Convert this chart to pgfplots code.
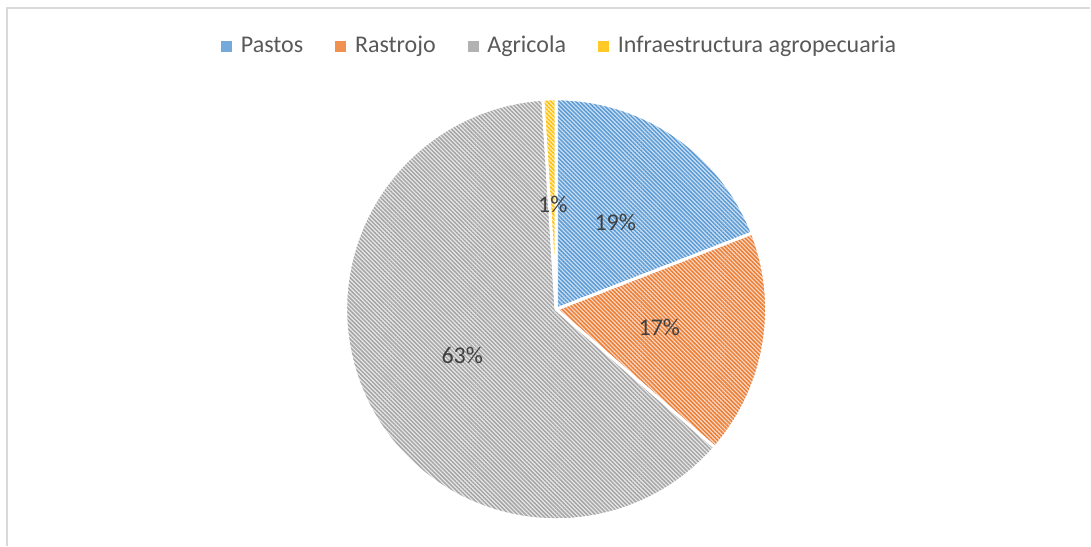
\documentclass[border=0pt]{standalone}
\usepackage{pgfplots}
\pgfplotsset{compat=1.18}
\usepackage{pgfplotstable}
\usepackage{fontspec}
\setmainfont{Carlito}
\usetikzlibrary{patterns.meta}
\definecolor{cPastos}{HTML}{5B9BD5}
\definecolor{tPastos}{HTML}{CFE1F3}
\definecolor{cRastrojo}{HTML}{ED7D31}
\definecolor{tRastrojo}{HTML}{FADACB}
\definecolor{cAgricola}{HTML}{A5A5A5}
\definecolor{tAgricola}{HTML}{EAEAEA}
\definecolor{cInfra}{HTML}{FFC000}
\definecolor{tInfra}{HTML}{FFEEB8}
\definecolor{labelgray}{HTML}{404040}
\definecolor{leggray}{HTML}{595959}
\definecolor{framegray}{HTML}{D9D9D9}

\tikzset{hatch/.style 2 args={preaction={fill=#2}, pattern={Lines[angle=-45,distance=1.45pt,line width=0.75pt]}, pattern color=#1}}

% pie data (percent)
\pgfplotstableread{
label value
Pastos 19.1
Rastrojo 17.3
Agricola 62.6
Infraestructura 1.0
}\piedata

\begin{document}
\begin{tikzpicture}
\pgfplotstablegetelem{0}{value}\of\piedata \let\vA\pgfplotsretval
\pgfplotstablegetelem{1}{value}\of\piedata \let\vB\pgfplotsretval
\pgfplotstablegetelem{2}{value}\of\piedata \let\vC\pgfplotsretval
\pgfplotstablegetelem{3}{value}\of\piedata \let\vD\pgfplotsretval
\pgfmathsetmacro\aA{90}
\pgfmathsetmacro\aB{\aA-3.6*\vA}
\pgfmathsetmacro\aC{\aB-3.6*\vB}
\pgfmathsetmacro\aD{\aC-3.6*\vC}
\pgfmathsetmacro\aE{\aD-3.6*\vD}
\pgfmathsetmacro\mA{(\aA+\aB)/2}
\pgfmathsetmacro\mB{(\aB+\aC)/2}
\pgfmathsetmacro\mC{(\aC+\aD)/2}
\pgfmathsetmacro\mD{(\aD+\aE)/2}
\def\R{105.3pt}
\def\L{52.4pt}
\begin{axis}[
  x=0.5pt, y=0.5pt,
  xmin=0, xmax=1091, ymin=0, ymax=546,
  hide axis, clip=false,
  legend columns=4,
  legend style={at={(axis cs:561,500)}, anchor=center, draw=none, fill=none,
    font=\fontsize{12}{14}\selectfont, text=leggray,
    /tikz/every even column/.append style={column sep=14pt},
    /tikz/every odd column/.append style={column sep=2.5pt}},
]
\addlegendimage{legend image code/.code={\fill[cPastos!85!white] (0pt,-2.5pt) rectangle (5pt,2.5pt);}}
\addlegendentry{Pastos}
\addlegendimage{legend image code/.code={\fill[cRastrojo!85!white] (0pt,-2.5pt) rectangle (5pt,2.5pt);}}
\addlegendentry{Rastrojo}
\addlegendimage{legend image code/.code={\fill[cAgricola!85!white] (0pt,-2.5pt) rectangle (5pt,2.5pt);}}
\addlegendentry{Agricola}
\addlegendimage{legend image code/.code={\fill[cInfra!85!white] (0pt,-2.5pt) rectangle (5pt,2.5pt);}}
\addlegendentry{Infraestructura agropecuaria}

\path (axis cs:0,0) rectangle (axis cs:1091,546);
\draw[framegray, line width=0.7pt] (axis cs:7,0) -- (axis cs:7,538) -- (axis cs:1091,538);

\path[hatch={cPastos}{tPastos}, draw=white, line width=1.5pt, line join=round]
  (axis cs:556.5,236.5) -- ++(\aA:\R) arc[start angle=\aA, end angle=\aB, radius=\R] -- cycle;
\path[hatch={cRastrojo}{tRastrojo}, draw=white, line width=1.5pt, line join=round]
  (axis cs:556.5,236.5) -- ++(\aB:\R) arc[start angle=\aB, end angle=\aC, radius=\R] -- cycle;
\path[hatch={cAgricola}{tAgricola}, draw=white, line width=1.5pt, line join=round]
  (axis cs:556.5,236.5) -- ++(\aC:\R) arc[start angle=\aC, end angle=\aD, radius=\R] -- cycle;
\path[hatch={cInfra}{tInfra}, draw=white, line width=1.5pt, line join=round]
  (axis cs:556.5,236.5) -- ++(\aD:\R) arc[start angle=\aD, end angle=\aE, radius=\R] -- cycle;

\path[every node/.style={font=\fontsize{12}{14}\selectfont, text=labelgray}]
  (axis cs:556.5,236.5) ++(\mA:\L) node {19\%}
  (axis cs:556.5,236.5) ++(\mB:\L) node {17\%}
  (axis cs:556.5,236.5) ++(\mC:\L) node {63\%}
  (axis cs:556.5,236.5) ++(\mD:\L) node {1\%};
\end{axis}
\end{tikzpicture}
\end{document}
